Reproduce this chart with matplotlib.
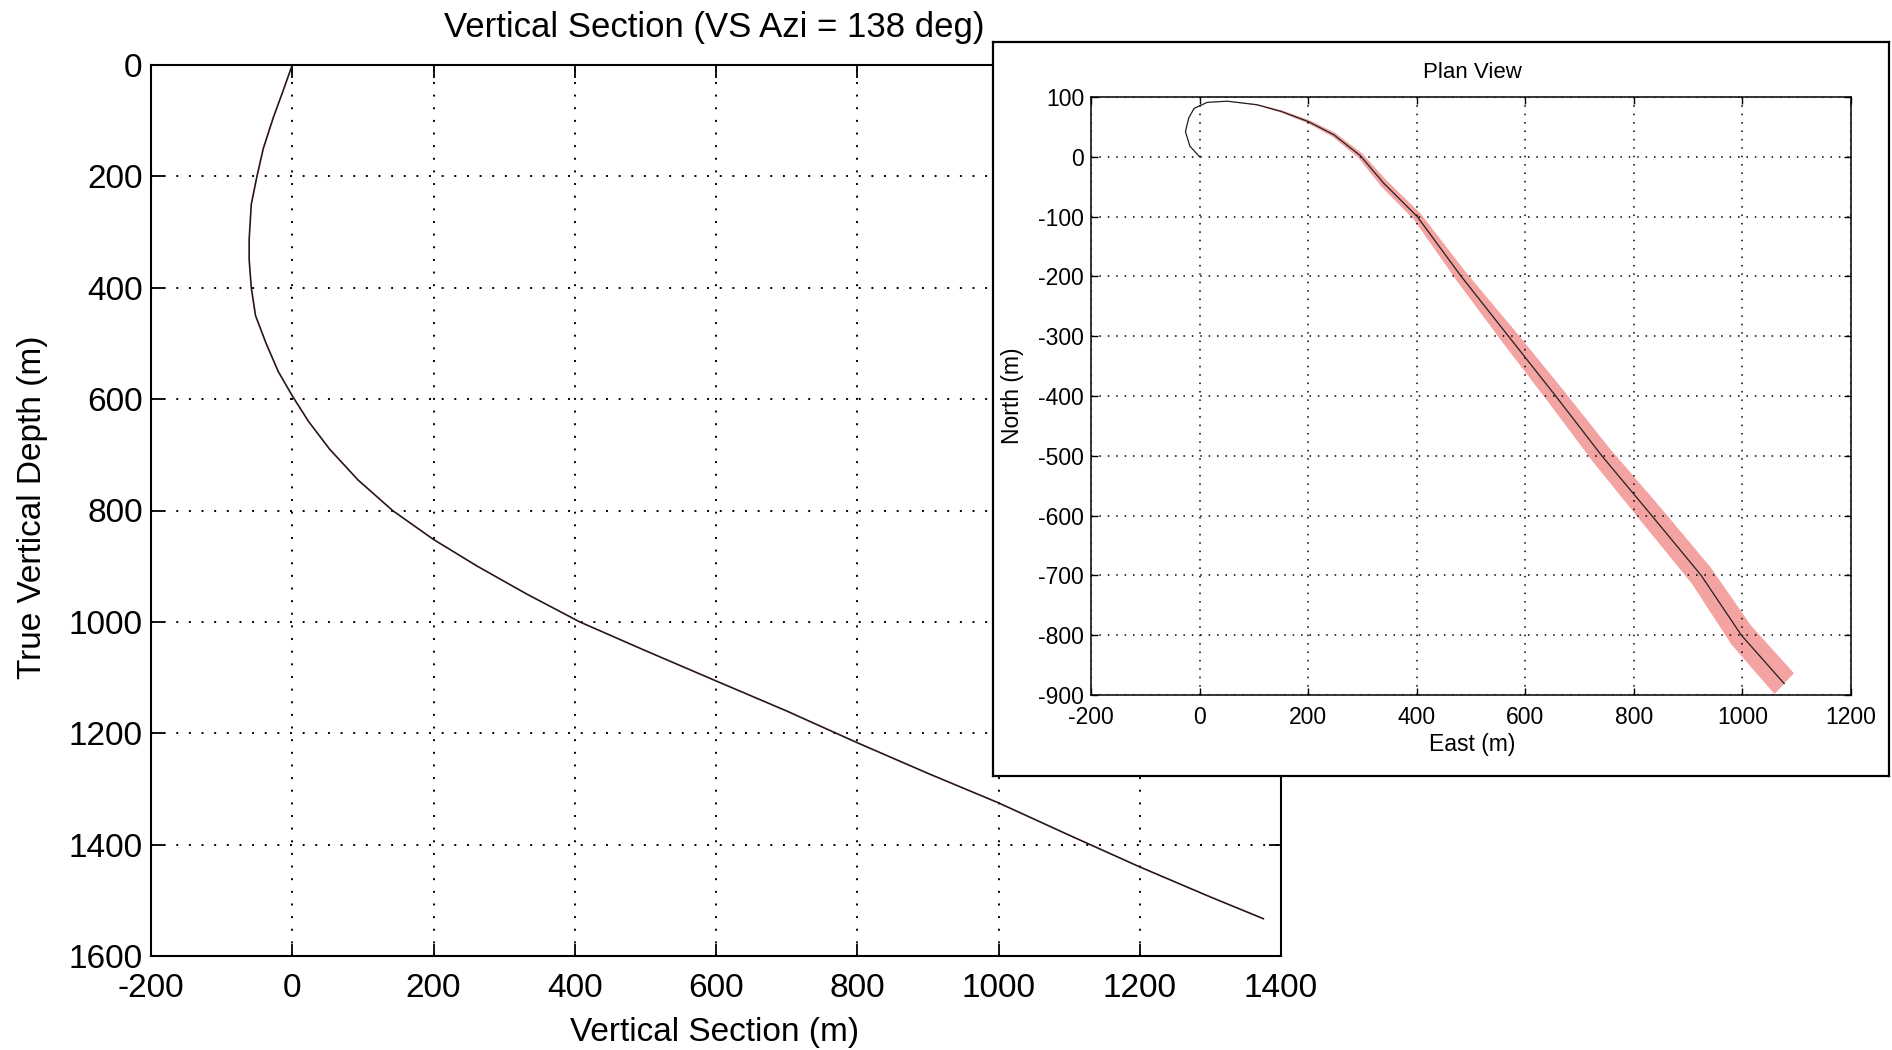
import numpy as np
import matplotlib
matplotlib.use("Agg")
import matplotlib.pyplot as plt

plt.rcParams['font.family'] = ['Liberation Sans', 'DejaVu Sans']
plt.rcParams['axes.unicode_minus'] = False

# vertical section: (VS, TVD) along the well
vs = [0, -14, -27, -41, -50, -58, -61, -61, -58, -52, -37, -20, 0, 23, 53, 93,
      142, 200, 262, 332, 407, 497, 600, 700, 800, 900, 1000, 1100, 1200,
      1300, 1375]
tvd = [0, 50, 95, 150, 200, 250, 313, 350, 400, 450, 500, 550, 594, 640, 690,
       745, 800, 852, 900, 950, 1000, 1050, 1106, 1160, 1217, 1272, 1325,
       1383, 1440, 1494, 1533]

# plan view: east / north, with half-width of the uncertainty band
east = [0, -18, -26, -20, -10, 14, 51, 106, 150, 200, 247, 296, 339, 401, 482,
        569, 656, 741, 833, 924, 998, 1077]
north = [0, 18, 42, 65, 81, 91, 93, 87, 76, 59, 37, 2, -44, -100, -200, -300,
         -400, -500, -600, -700, -800, -881]
halfw = [0, 0, 0, 0, 0, 0, 0, 1, 2, 3, 4, 5, 7, 8, 11, 15, 17, 19, 21, 22,
         24, 25]

fig = plt.figure(figsize=(18.92, 10.5), dpi=100)
W, H = 1892.0, 1050.0

grid_kw = dict(color='k', linestyle=(0, (1, 5.5)), linewidth=1.4)

# ---- main axes: vertical section
ax = fig.add_axes([151 / W, 1 - 956 / H, 1130 / W, 891 / H])
ax.plot(vs, tvd, color='#2a1414', lw=1.2)
ax.set_xlim(-200, 1400)
ax.set_ylim(1600, 0)
ax.set_xticks(np.arange(-200, 1401, 200))
ax.set_yticks(np.arange(0, 1601, 200))
ax.grid(True, **grid_kw)
ax.tick_params(direction='in', length=9, width=1.3, labelsize=24,
               top=True, right=True)
ax.tick_params(axis='x', pad=12)
ax.tick_params(axis='y', pad=6)
for s in ax.spines.values():
    s.set_linewidth(1.5)

fig.text(714 / W, 1 - 28 / H, 'Vertical Section (VS Azi = 138 deg)',
         fontsize=25, ha='center', va='center')
fig.text(715 / W, 1 - 1032 / H, 'Vertical Section (m)', fontsize=24,
         ha='center', va='center')
fig.text(32 / W, 1 - 507 / H, 'True Vertical Depth (m)', fontsize=24,
         ha='center', va='center', rotation=90)

# ---- inset frame
box = fig.add_axes([993 / W, 1 - 776 / H, 896 / W, 734 / H])
box.set_xticks([])
box.set_yticks([])
box.set_facecolor('white')
for s in box.spines.values():
    s.set_linewidth(1.6)

# ---- plan view
ax2 = fig.add_axes([1091 / W, 1 - 695 / H, 760 / W, 598 / H])
e = np.array(east, float)
n = np.array(north, float)
hw = np.array(halfw, float)
de = np.gradient(e)
dn = np.gradient(n)
norm = np.hypot(de, dn)
ne, nn = -dn / norm, de / norm
k = 6
upper_e, upper_n = e[k:] + ne[k:] * hw[k:], n[k:] + nn[k:] * hw[k:]
lower_e, lower_n = e[k:] - ne[k:] * hw[k:], n[k:] - nn[k:] * hw[k:]
ax2.fill(np.concatenate([upper_e, lower_e[::-1]]),
         np.concatenate([upper_n, lower_n[::-1]]),
         color='#f4a3a3', lw=0)
ax2.plot(east, north, color='#202020', lw=0.9)
ax2.set_xlim(-200, 1200)
ax2.set_ylim(-900, 100)
ax2.set_xticks(np.arange(-200, 1201, 200))
ax2.set_yticks(np.arange(-900, 101, 100))
ax2.grid(True, color='k', linestyle=(0, (1, 4.5)), linewidth=1.1)
ax2.tick_params(direction='in', length=5, width=1, labelsize=16.5,
                top=True, right=True)
ax2.tick_params(axis='x', pad=8)
ax2.tick_params(axis='y', pad=5)
for s in ax2.spines.values():
    s.set_linewidth(1.1)

fig.text(1472 / W, 1 - 73 / H, 'Plan View', fontsize=16, ha='center',
         va='center')
fig.text(1472 / W, 1 - 745 / H, 'East (m)', fontsize=16.5, ha='center',
         va='center')
fig.text(1013 / W, 1 - 396 / H, 'North (m)', fontsize=16.5, ha='center',
         va='center', rotation=90)

fig.savefig('out.png', dpi=100)
